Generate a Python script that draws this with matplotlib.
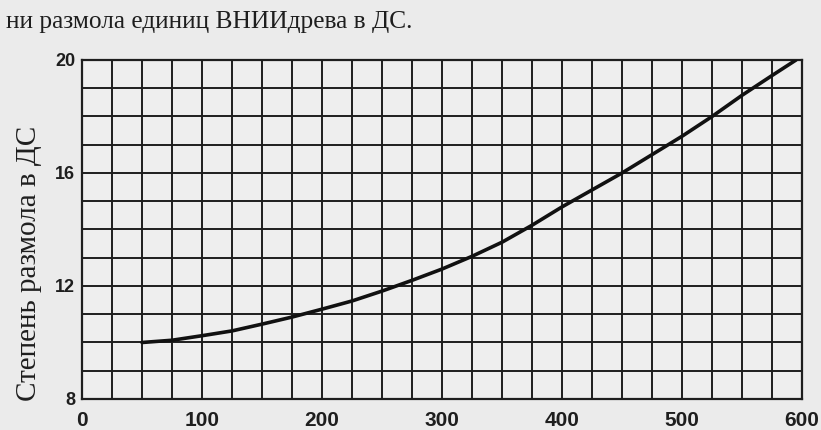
import matplotlib
matplotlib.use("Agg")
import matplotlib.pyplot as plt

# Данные
razmol_x = [50, 75, 100, 125, 150, 175, 200, 225, 250, 275, 300, 325,
            350, 375, 400, 425, 450, 475, 500, 525, 550, 575, 595]
stepen_ds = [10.0, 10.08, 10.24, 10.41, 10.65, 10.9, 11.18, 11.47, 11.82,
             12.2, 12.6, 13.05, 13.55, 14.15, 14.8, 15.4, 16.0, 16.65,
             17.3, 18.0, 18.75, 19.45, 20.0]
x_ticks = [0, 100, 200, 300, 400, 500, 600]
y_ticks = [8, 12, 16, 20]

paper = "#ebebeb"
ink = "#1e1e1e"

fig = plt.figure(figsize=(8.21, 4.30), dpi=100, facecolor=paper)
ax = fig.add_axes([0.0999, 0.0721, 0.877, 0.7884], facecolor="#eeeeee")

ax.plot(razmol_x, stepen_ds, color="#111111", lw=2.6, solid_capstyle="round", zorder=3)

ax.set_xlim(0, 600)
ax.set_ylim(8, 20)
ax.set_xticks(x_ticks)
ax.set_yticks(y_ticks)
ax.set_xticks(range(0, 601, 25), minor=True)
ax.set_yticks(range(8, 21), minor=True)
ax.grid(which="both", color=ink, lw=1.4)
ax.tick_params(which="both", length=0)
ax.tick_params(axis="x", pad=9)
ax.tick_params(axis="y", pad=5)
for lab in ax.get_xticklabels():
    lab.set_fontfamily("Liberation Sans")
    lab.set_fontweight("bold")
    lab.set_fontsize(15)
    lab.set_color(ink)
for lab in ax.get_yticklabels():
    lab.set_fontfamily("Liberation Sans")
    lab.set_fontweight("bold")
    lab.set_fontsize(13)
    lab.set_color(ink)
for s in ax.spines.values():
    s.set_color(ink)
    s.set_linewidth(1.6)

ax.set_ylabel("Степень размола в ДС", fontfamily="Liberation Serif",
              fontsize=21, color=ink)
ax.yaxis.set_label_coords(-0.055, 0.40)

fig.text(0.007, 0.948, "ни размола единиц ВНИИдрева в ДС.",
         fontfamily="Liberation Serif", fontsize=18.3, color=ink, va="center")

fig.savefig("out.png", dpi=100, facecolor=paper)
plt.close(fig)
